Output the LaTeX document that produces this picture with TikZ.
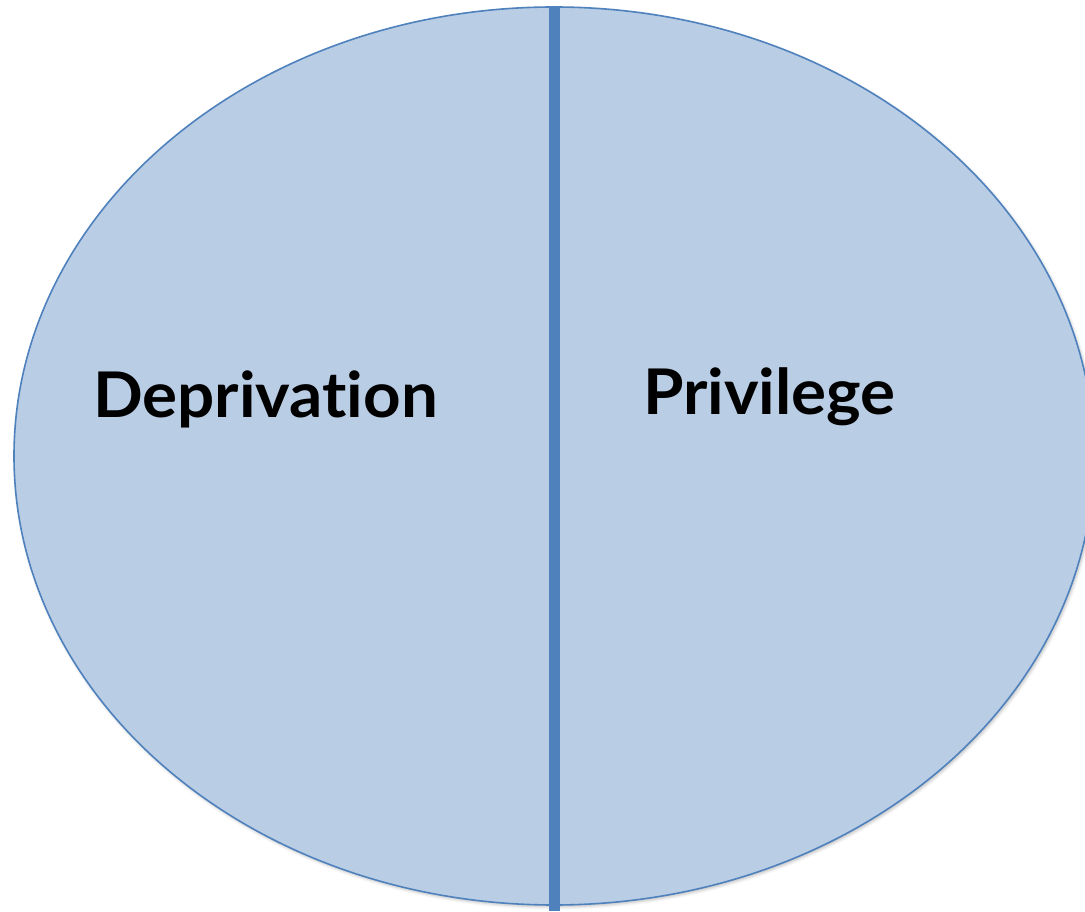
\documentclass[tikz,border=0pt]{standalone}
\usepackage{fontspec}
\setmainfont{Lato}[Ligatures=NoCommon]
\newfontfamily\labelfont{Lato}[Ligatures=NoCommon, FakeStretch=1.04]
\usetikzlibrary{shapes.geometric,shadows.blur}
\definecolor{fillblue}{HTML}{B9CDE5}
\definecolor{lineblue}{HTML}{4F81BD}
\tikzset{
  oval/.style={ellipse, draw=lineblue, line width=1.6pt, fill=fillblue, inner sep=0pt,
    minimum width=1080pt, minimum height=898pt,
    blur shadow={shadow xshift=1.5pt, shadow yshift=-2pt, shadow blur radius=3pt, shadow opacity=25}},
  divider/.style={draw=lineblue, line width=11pt},
  label/.style={font=\labelfont\fontsize{63}{70}\selectfont\bfseries, text=black, inner sep=0pt, anchor=base west}
}
\begin{document}
\begin{tikzpicture}[x=1pt,y=1pt]
\useasboundingbox (0,0) rectangle (1085,911);
\clip (0,0) rectangle (1085,911);
\node[oval] (E) at (554,455) {};
\coordinate (B) at (554,0);
\draw[divider] (E.north) -- (B);
\node[label] (D) at (93,493) {Deprivation};
\node[label] (P) at (643,496) {Privilege};
\end{tikzpicture}
\end{document}
